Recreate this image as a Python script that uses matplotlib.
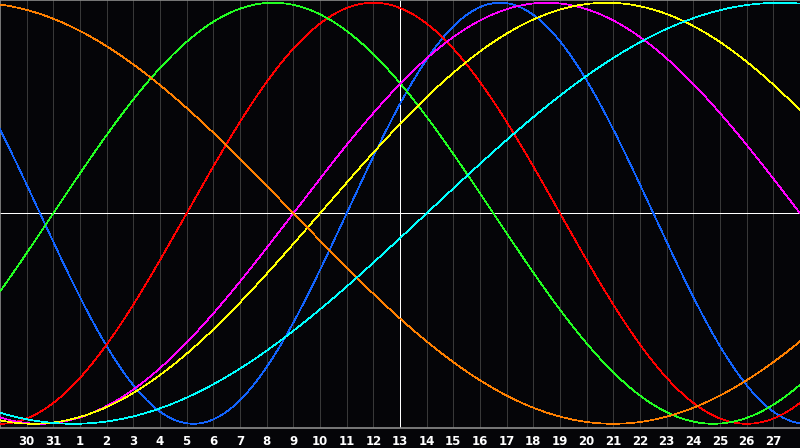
#!/usr/bin/env python

# plot.py - a seven cycle biorhythm chart, thirty days around the 13th

# require
import matplotlib
matplotlib.use( 'Agg' )
import matplotlib.pyplot as plt
import numpy as np

# configure
BACKGROUND = '#050508'
GRID       = '#383838'
BORDER     = '#8c8c8c'
WIDTH      = 0.5

# the days shown along the bottom; the 13th sits in the middle of the window
day_labels = [ '30', '31' ] + [ str( day ) for day in range( 1, 28 ) ]
day_offsets = list( range( -14, 15 ) )

# the cycles, their lengths in days, and the day (relative to the 13th) where each one crosses zero going up
cycles     = [ 'physical', 'emotional', 'intellectual', 'intuitive', 'aesthetic', 'awareness', 'spiritual' ]
periods    = [ 23, 28, 33, 38, 43, 48, 53 ]
zero_days  = [ -2.0, -8.0, -13.0, -4.0, -3.0, 20.0, 1.0 ]
colors     = [ '#1264ff', '#ff0000', '#22ff22', '#ff00ff', '#ffff00', '#ff8000', '#00ffff' ]

# initialize
fig = plt.figure( figsize=( 8, 4.48 ), dpi=100, facecolor=BACKGROUND )
ax  = fig.add_axes( [ 0, 20 / 448, 1, 428 / 448 ] )
ax.set_facecolor( BACKGROUND )

# grid, one line per day, and the white cross through the middle
for offset in day_offsets :
	if offset == 0 : continue
	ax.axvline( offset, color=GRID, linewidth=WIDTH, antialiased=False, zorder=1 )
ax.axvline( 0, color='white', linewidth=WIDTH, antialiased=False, zorder=2 )
ax.axhline( 0, color='white', linewidth=WIDTH, antialiased=False, zorder=2 )

# the curves
days = np.linspace( -15, 15, 1201 )
for name, period, zero, color in zip( cycles, periods, zero_days, colors ) :
	ax.plot( days, np.sin( 2 * np.pi * ( days - zero ) / period ), color=color, linewidth=WIDTH, antialiased=False, zorder=3, label=name )

# axes
ax.set_xlim( -15, 15 )
ax.set_ylim( -1.020, 1.013 )
ax.set_yticks( [] )
ax.set_xticks( day_offsets )
ax.set_xticklabels( day_labels )
ax.tick_params( axis='x', length=0, pad=5, colors='white', labelsize=8.5 )
for label in ax.get_xticklabels() : label.set_fontweight( 'bold' )
for side in [ 'left', 'top', 'bottom' ] :
	ax.spines[ side ].set_color( BORDER )
	ax.spines[ side ].set_linewidth( 1.2 )
ax.spines[ 'right' ].set_visible( False )

# output and done
fig.savefig( 'out.png', dpi=100, facecolor=BACKGROUND )
